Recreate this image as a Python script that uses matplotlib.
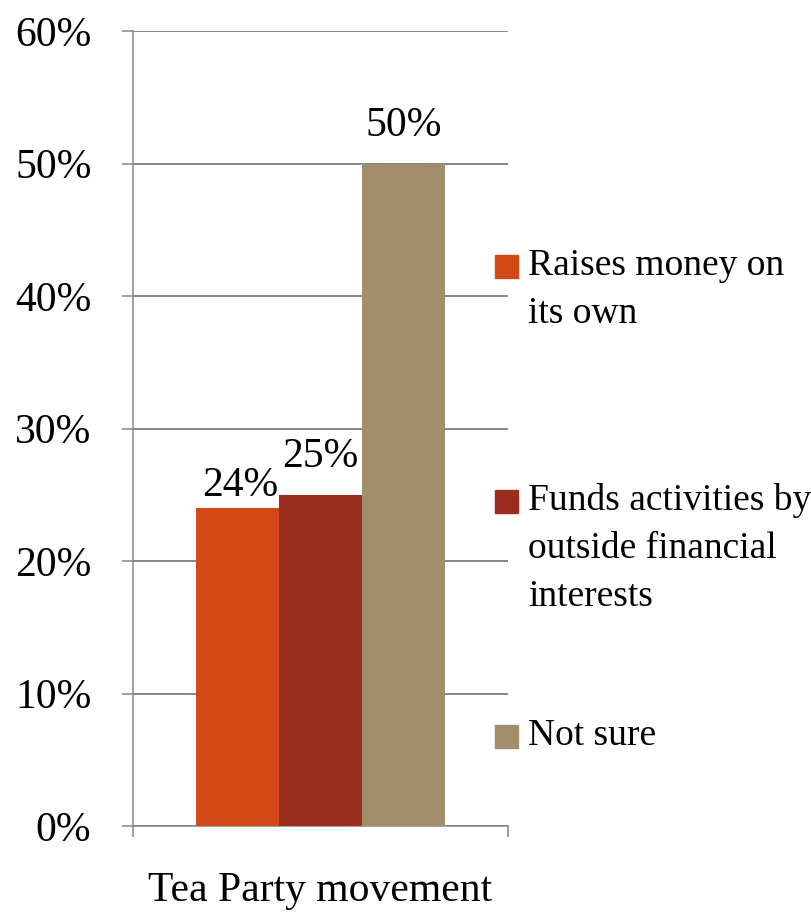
import matplotlib
matplotlib.use("Agg")
import matplotlib.pyplot as plt
from matplotlib.patches import Rectangle
from matplotlib.ticker import FuncFormatter

plt.rcParams['font.family'] = ['Liberation Serif', 'DejaVu Serif']

category = "Tea Party movement"
series = ["Raises money on\nits own", "Funds activities by\noutside financial\ninterests", "Not sure"]
values = [24, 25, 50]
colors = ["#D34817", "#9B2D1F", "#A28E6A"]
yticks = [0, 10, 20, 30, 40, 50, 60]

# label offsets above bar tops (points); first nudged as in the original
label_offsets = [8.8, 20, 20]
label_dx = [2, 0, 0]

W, H = 811, 916
fig = plt.figure(figsize=(W / 100, H / 100), dpi=100)
ax = fig.add_axes([133 / W, 1 - 826 / H, (508 - 133) / W, (826 - 31) / H])

fs = 30
fs_leg = 27
grid_c = "#868686"
bw = 83 / 375
n = len(values)
for i, (v, c) in enumerate(zip(values, colors)):
    x = (i - (n - 1) / 2) * bw
    ax.bar(x, v, width=bw, color=c, zorder=3)
    ax.annotate(f"{v}%", (x, v), xytext=(label_dx[i], label_offsets[i]), textcoords="offset points",
                ha="center", va="baseline", fontsize=fs, color="black", zorder=4)

ax.set_xlim(-0.5, 0.5)
ax.set_ylim(0, 60)
ax.set_yticks(yticks)
ax.yaxis.set_major_formatter(FuncFormatter(lambda v, p: f"{int(v)}%"))
ax.yaxis.grid(True, color=grid_c, linewidth=1.4, zorder=0)
ax.set_xticks([-0.5, 0.5])
ax.set_xticklabels(["", ""])
ax.set_xticks([0], minor=True)
ax.set_xticklabels([category], minor=True)
ax.tick_params(axis="x", which="minor", length=0, pad=33, labelsize=fs)
ax.tick_params(axis="x", which="major", length=8, width=1.1, color=grid_c, direction="out")
ax.tick_params(axis="y", length=8, width=1.1, color=grid_c, direction="out", pad=22, labelsize=fs)
for s in ["top", "right"]:
    ax.spines[s].set_visible(False)
for s in ["left", "bottom"]:
    ax.spines[s].set_color(grid_c)
    ax.spines[s].set_linewidth(1.1)

# legend
base_y = [275, 510, 745]
line_px = 48
for lab, c, by in zip(series, colors, base_y):
    sq_top = by - 20
    fig.patches.append(Rectangle((495 / W, 1 - (sq_top + 23) / H), 23 / W, 23 / H,
                                 transform=fig.transFigure, color=c, figure=fig))
    for k, line in enumerate(lab.split("\n")):
        fig.text(528 / W, 1 - (by + k * line_px) / H, line, ha="left", va="baseline",
                 fontsize=fs_leg)

fig.savefig("out.png", dpi=100)
